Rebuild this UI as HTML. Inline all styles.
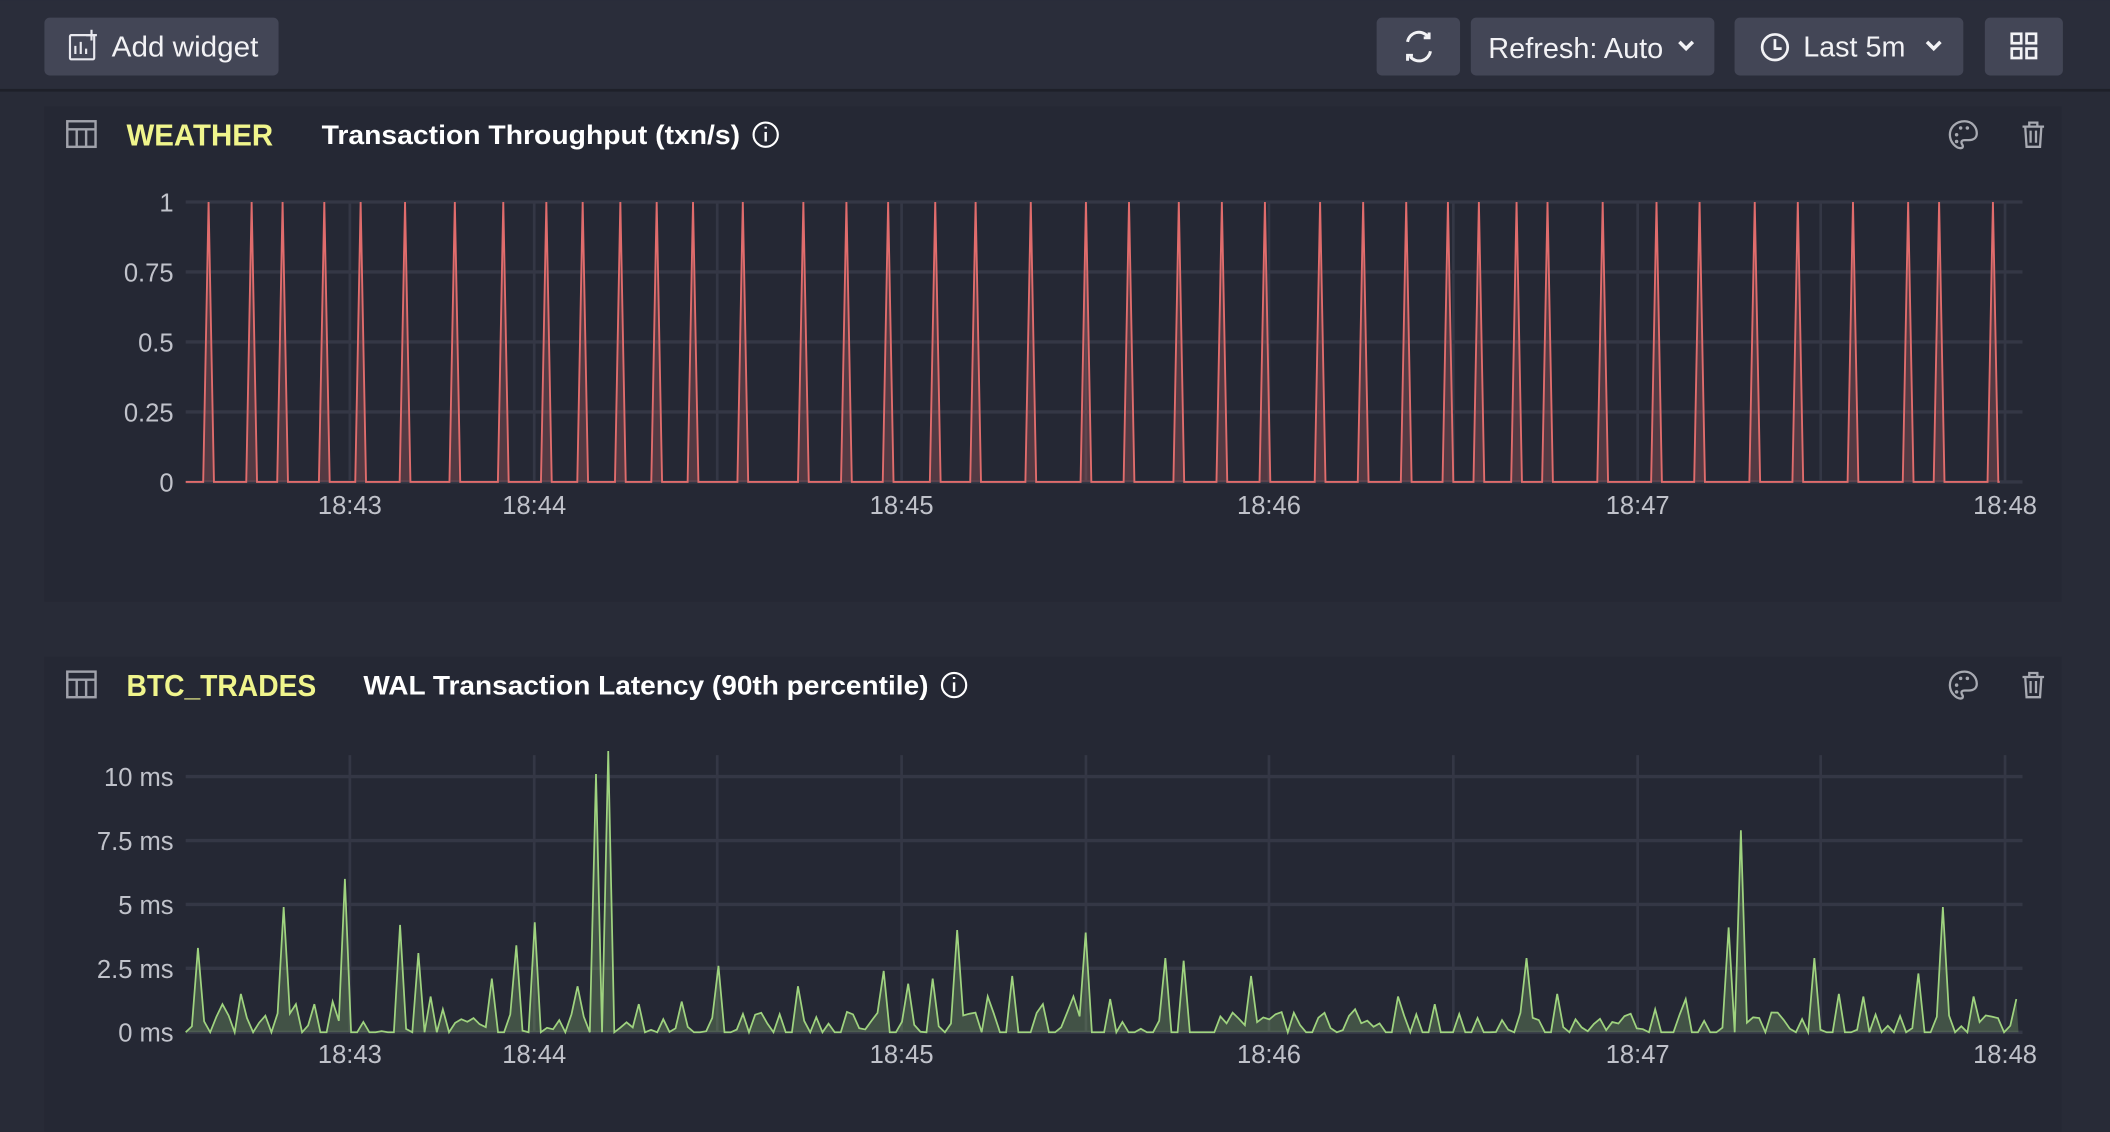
<!DOCTYPE html>
<html><head><meta charset="utf-8"><style>
html,body{margin:0;padding:0;background:#282b37;width:2110px;height:1132px;overflow:hidden}
svg{display:block}
text{font-family:"Liberation Sans",sans-serif}
</style></head><body>
<svg id="s" width="2110" height="1132" viewBox="0 0 1568 841" xmlns="http://www.w3.org/2000/svg">
<rect width="1568" height="841" fill="#282b37"/>
<rect width="1568" height="66" fill="#2a2d3a"/>
<rect y="66" width="1568" height="2" fill="#1e2029"/>
<rect x="33" y="13" width="174" height="43" rx="4" fill="#434656"/>
<g fill="none" stroke="#e8e8ee" stroke-width="1.6"><rect x="52" y="26" width="18" height="18" rx="1"/><path d="M56 40v-6M60 40v-9M64 40v-4M68 22v8M64 26h8"/></g>
<text x="83" y="42" font-size="21" fill="#f2f2f5" textLength="109" lengthAdjust="spacingAndGlyphs">Add widget</text>
<rect x="1023" y="13" width="62" height="43" rx="4" fill="#434656"/>
<g fill="none" stroke="#f2f2f5" stroke-width="2.2"><path d="M1046 31a8.5 8.5 0 0 1 15-4M1063 38a8.5 8.5 0 0 1-15 4"/><path d="M1062 24v4h-4M1046 45v-4h4"/></g>
<rect x="1093" y="13" width="181" height="43" rx="4" fill="#434656"/>
<text x="1106" y="43" font-size="21" fill="#f2f2f5" textLength="130" lengthAdjust="spacingAndGlyphs">Refresh: Auto</text>
<path d="M1248 31l5 5 5-5" fill="none" stroke="#f2f2f5" stroke-width="2.6"/>
<rect x="1289" y="13" width="170" height="43" rx="4" fill="#434656"/>
<circle cx="1319" cy="35" r="9.5" fill="none" stroke="#f2f2f5" stroke-width="2"/><path d="M1319 29v7h5" fill="none" stroke="#f2f2f5" stroke-width="2"/>
<text x="1340" y="42" font-size="21" fill="#f2f2f5" textLength="76" lengthAdjust="spacingAndGlyphs">Last 5m</text>
<path d="M1432 31l5 5 5-5" fill="none" stroke="#f2f2f5" stroke-width="2.6"/>
<rect x="1475" y="13" width="58" height="43" rx="4" fill="#434656"/>
<g fill="none" stroke="#f2f2f5" stroke-width="2"><rect x="1495" y="25" width="7" height="7"/><rect x="1506" y="25" width="7" height="7"/><rect x="1495" y="36" width="7" height="7"/><rect x="1506" y="36" width="7" height="7"/></g>

<rect x="33" y="79" width="1499" height="368" fill="#252834"/>
<g fill="none" stroke="#a0a2ab" stroke-width="1.8"><rect x="50" y="90" width="21" height="19"/><path d="M50 96h21M57 96v13M64 96v13"/></g>
<text x="94" y="108" font-size="23" font-weight="bold" fill="#f0f58c" textLength="109" lengthAdjust="spacingAndGlyphs">WEATHER</text>
<text x="239" y="107" font-size="20" font-weight="bold" fill="#ffffff" textLength="311" lengthAdjust="spacingAndGlyphs">Transaction Throughput (txn/s)</text>
<circle cx="569" cy="100" r="9" fill="none" stroke="#fff" stroke-width="1.6"/><path d="M569 98v7M569 94v1.5" stroke="#fff" stroke-width="1.8"/>
<g fill="none" stroke="#a8aab2" stroke-width="1.7"><path d="M1460 90c-7 0-11 5-11 10 0 6 5 10 8 10 2 0 2-2 1-3-1-2 0-3 2-3h3c4 0 6-2 6-5 0-5-4-9-9-9z"/><path d="M1503 94h16M1508 94v-3h6v3M1505 94l1 15h10l1-15M1509 97v9M1513 97v9"/></g>
<g fill="#a8aab2"><circle cx="1454" cy="100" r="1.3"/><circle cx="1457" cy="95" r="1.3"/><circle cx="1462" cy="95" r="1.3"/><circle cx="1454" cy="105" r="1.3"/></g>
<g id="g1"></g>

<rect x="33" y="488" width="1499" height="353" fill="#252834"/>
<g fill="none" stroke="#a0a2ab" stroke-width="1.8"><rect x="50" y="499" width="21" height="19"/><path d="M50 505h21M57 505v13M64 505v13"/></g>
<text x="94" y="517" font-size="23" font-weight="bold" fill="#f0f58c" textLength="141" lengthAdjust="spacingAndGlyphs">BTC_TRADES</text>
<text x="270" y="516" font-size="20" font-weight="bold" fill="#ffffff" textLength="420" lengthAdjust="spacingAndGlyphs">WAL Transaction Latency (90th percentile)</text>
<circle cx="709" cy="509" r="9" fill="none" stroke="#fff" stroke-width="1.6"/><path d="M709 507v7M709 503v1.5" stroke="#fff" stroke-width="1.8"/>
<g fill="none" stroke="#a8aab2" stroke-width="1.7"><path d="M1460 499c-7 0-11 5-11 10 0 6 5 10 8 10 2 0 2-2 1-3-1-2 0-3 2-3h3c4 0 6-2 6-5 0-5-4-9-9-9z"/><path d="M1503 503h16M1508 503v-3h6v3M1505 503l1 15h10l1-15M1509 506v9M1513 506v9"/></g>
<g fill="#a8aab2"><circle cx="1454" cy="509" r="1.3"/><circle cx="1457" cy="504" r="1.3"/><circle cx="1462" cy="504" r="1.3"/><circle cx="1454" cy="514" r="1.3"/></g>
<g id="g2"></g>
</svg>
<script>
var NS="http://www.w3.org/2000/svg";
function el(p,t,a,txt){var e=document.createElementNS(NS,t);for(var k in a)e.setAttribute(k,a[k]);if(txt!=null)e.textContent=txt;p.appendChild(e);return e;}
var vx=[260,397,533,670,807,943,1080,1217,1353,1490];
var xl=[[260,"18:43"],[397,"18:44"],[670,"18:45"],[943,"18:46"],[1217,"18:47"],[1490,"18:48"]];
function axes(g,ys,labels,top,bot,xly){
  vx.forEach(function(x){el(g,"line",{x1:x,x2:x,y1:top,y2:bot,stroke:"#343745","stroke-width":2});});
  ys.forEach(function(y,i){el(g,"line",{x1:138,x2:1503,y1:y,y2:y,stroke:"#343745","stroke-width":2.5});
    el(g,"text",{x:129,y:y+7,"font-size":19,fill:"#c0c2ca","text-anchor":"end"},labels[i]);});
  xl.forEach(function(a){el(g,"text",{x:a[0],y:xly,"font-size":19,fill:"#c0c2ca","text-anchor":"middle"},a[1]);});
}
var g1=document.getElementById("g1");
axes(g1,[150,202,254,306,358],["1","0.75","0.5","0.25","0"],150,358,382);
var sp=[155,187,210,241,268,301,338,374,406,433,461,488,515,552,597,629,660,695,725,766,807,839,876,908,940,981,1013,1045,1076,1099,1127,1150,1191,1231,1263,1304,1336,1377,1418,1441,1481];
var d="M138 358";sp.forEach(function(x){d+=" L"+(x-4)+" 358 L"+x+" 150 L"+(x+4)+" 358";});d+=" L1486 358";
el(g1,"path",{d:d+" Z",fill:"rgba(224,108,108,0.25)",stroke:"none"});
el(g1,"path",{d:d,fill:"none",stroke:"#e06c6c","stroke-width":1.4});

var g2=document.getElementById("g2");
axes(g2,[577,624.5,672,719.5,767],["10 ms","7.5 ms","5 ms","2.5 ms","0 ms"],561,767,790);
var pk=[[146,3.3],[165,1.1],[177,1.5],[210,4.9],[222,1.1],[234,1.1],[246,1.2],[256,6.0],[296,4.2],[310,3.1],[320,1.4],[330,0.9],[364,2.1],[383,3.4],[397,4.3],[429,1.8],[443,10.1],[451,11],[473,1.1],[505,1.2],[533,2.6],[593,1.8],[656,2.4],[675,1.9],[692,2.1],[711,4.0],[736,1.4],[751,2.2],[773,1.1],[797,1.4],[808,3.9],[826,1.3],[865,2.9],[880,2.8],[930,2.2],[1007,0.9],[1040,1.4],[1064,1.1],[1135,2.9],[1158,1.5],[1229,0.9],[1255,1.3],[1285,4.1],[1295,7.9],[1350,2.9],[1366,1.5],[1386,1.4],[1426,2.3],[1445,4.9],[1466,1.4],[1499,1.3]];
var seed=7;function rnd(){seed=(seed*16807)%2147483647;return seed/2147483647;}
var pts=[],step=4.55;
for(var x=138;x<=1500;x+=step){var v=rnd()<0.45?0:rnd()*0.8;
  pk.forEach(function(p){if(Math.abs(p[0]-x)<step/2)v=p[1];});pts.push([x,767-v*19]);}
var d2="M"+pts.map(function(p){return p[0].toFixed(1)+" "+p[1].toFixed(1);}).join(" L");
el(g2,"path",{d:d2+" L1500 767 L138 767 Z",fill:"rgba(155,209,122,0.25)",stroke:"none"});
el(g2,"path",{d:d2,fill:"none",stroke:"#9fd37f","stroke-width":1.3});
</script>
</body></html>
